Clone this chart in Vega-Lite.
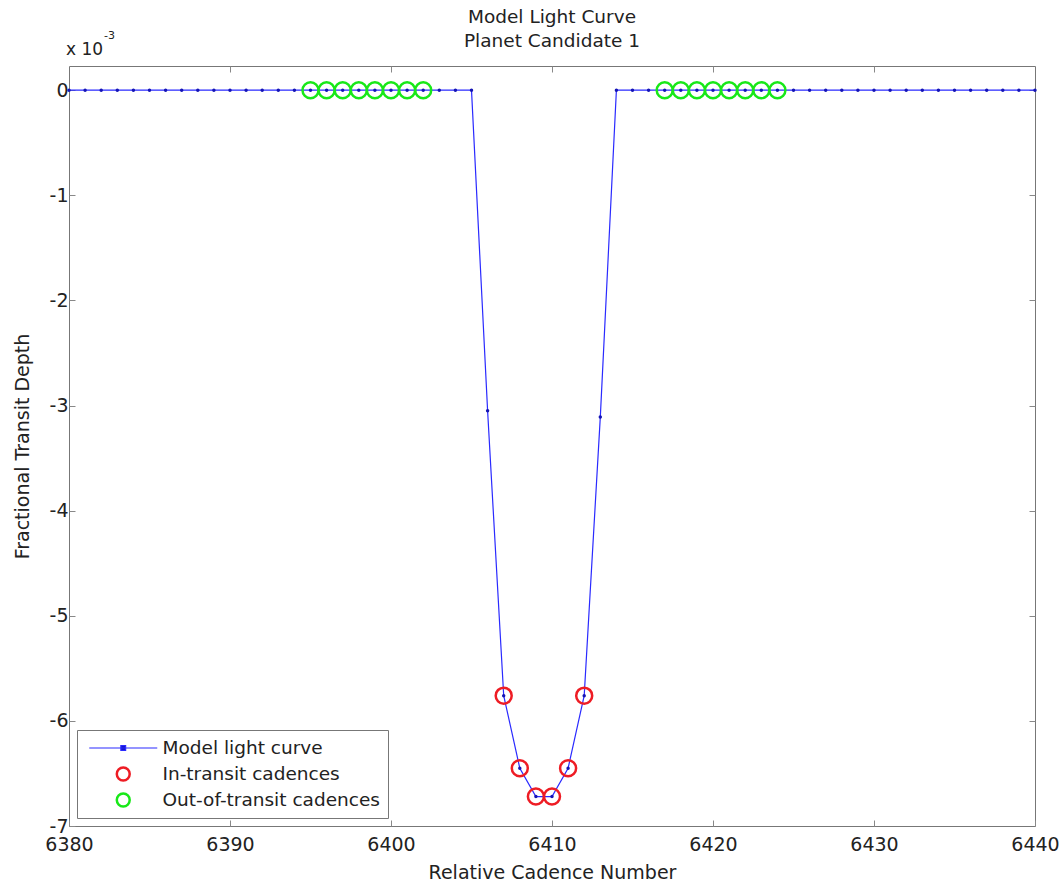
{
  "$schema": "https://vega.github.io/schema/vega-lite/v6.json",
  "width": 966,
  "height": 760,
  "autosize": {"type": "none"},
  "padding": {"left": 69, "top": 66, "right": 27, "bottom": 58},
  "background": "white",
  "title": {
    "text": ["Model Light Curve", "Planet Candidate 1"],
    "font": "DejaVu Sans",
    "fontSize": 18.5,
    "fontWeight": "normal",
    "color": "#222222",
    "lineHeight": 24,
    "anchor": "middle",
    "offset": -20
  },
  "config": {
    "font": "DejaVu Sans",
    "view": {"stroke": "#777777", "strokeWidth": 1},
    "axis": {
      "grid": false,
      "domain": false,
      "tickColor": "#888888",
      "tickSize": -6,
      "labelFont": "DejaVu Sans",
      "labelFontSize": 19,
      "labelColor": "#222222",
      "labelFlush": false,
      "labelOverlap": false,
      "titleFont": "DejaVu Sans",
      "titleFontSize": 19,
      "titleFontWeight": "normal",
      "titleColor": "#222222"
    },
    "legend": {
      "orient": "bottom-left",
      "offset": 8,
      "strokeColor": "#777777",
      "fillColor": "white",
      "padding": 8,
      "rowPadding": 6,
      "clipHeight": 20,
      "symbolSize": 4624,
      "symbolOffset": 29,
      "symbolStrokeWidth": 1,
      "labelFont": "DejaVu Sans",
      "labelFontSize": 18.5,
      "labelColor": "#222222",
      "labelOffset": 30,
      "labelLimit": 0
    }
  },
  "data": {
    "values": [
      {"cadence": 6380, "depth": 0},
      {"cadence": 6381, "depth": 0},
      {"cadence": 6382, "depth": 0},
      {"cadence": 6383, "depth": 0},
      {"cadence": 6384, "depth": 0},
      {"cadence": 6385, "depth": 0},
      {"cadence": 6386, "depth": 0},
      {"cadence": 6387, "depth": 0},
      {"cadence": 6388, "depth": 0},
      {"cadence": 6389, "depth": 0},
      {"cadence": 6390, "depth": 0},
      {"cadence": 6391, "depth": 0},
      {"cadence": 6392, "depth": 0},
      {"cadence": 6393, "depth": 0},
      {"cadence": 6394, "depth": 0},
      {"cadence": 6395, "depth": 0, "kind": "Out-of-transit cadences"},
      {"cadence": 6396, "depth": 0, "kind": "Out-of-transit cadences"},
      {"cadence": 6397, "depth": 0, "kind": "Out-of-transit cadences"},
      {"cadence": 6398, "depth": 0, "kind": "Out-of-transit cadences"},
      {"cadence": 6399, "depth": 0, "kind": "Out-of-transit cadences"},
      {"cadence": 6400, "depth": 0, "kind": "Out-of-transit cadences"},
      {"cadence": 6401, "depth": 0, "kind": "Out-of-transit cadences"},
      {"cadence": 6402, "depth": 0, "kind": "Out-of-transit cadences"},
      {"cadence": 6403, "depth": 0},
      {"cadence": 6404, "depth": 0},
      {"cadence": 6405, "depth": 0},
      {"cadence": 6406, "depth": -0.00305},
      {"cadence": 6407, "depth": -0.00576, "kind": "In-transit cadences"},
      {"cadence": 6408, "depth": -0.00645, "kind": "In-transit cadences"},
      {"cadence": 6409, "depth": -0.00672, "kind": "In-transit cadences"},
      {"cadence": 6410, "depth": -0.00672, "kind": "In-transit cadences"},
      {"cadence": 6411, "depth": -0.00645, "kind": "In-transit cadences"},
      {"cadence": 6412, "depth": -0.00576, "kind": "In-transit cadences"},
      {"cadence": 6413, "depth": -0.00311},
      {"cadence": 6414, "depth": 0},
      {"cadence": 6415, "depth": 0},
      {"cadence": 6416, "depth": 0},
      {"cadence": 6417, "depth": 0, "kind": "Out-of-transit cadences"},
      {"cadence": 6418, "depth": 0, "kind": "Out-of-transit cadences"},
      {"cadence": 6419, "depth": 0, "kind": "Out-of-transit cadences"},
      {"cadence": 6420, "depth": 0, "kind": "Out-of-transit cadences"},
      {"cadence": 6421, "depth": 0, "kind": "Out-of-transit cadences"},
      {"cadence": 6422, "depth": 0, "kind": "Out-of-transit cadences"},
      {"cadence": 6423, "depth": 0, "kind": "Out-of-transit cadences"},
      {"cadence": 6424, "depth": 0, "kind": "Out-of-transit cadences"},
      {"cadence": 6425, "depth": 0},
      {"cadence": 6426, "depth": 0},
      {"cadence": 6427, "depth": 0},
      {"cadence": 6428, "depth": 0},
      {"cadence": 6429, "depth": 0},
      {"cadence": 6430, "depth": 0},
      {"cadence": 6431, "depth": 0},
      {"cadence": 6432, "depth": 0},
      {"cadence": 6433, "depth": 0},
      {"cadence": 6434, "depth": 0},
      {"cadence": 6435, "depth": 0},
      {"cadence": 6436, "depth": 0},
      {"cadence": 6437, "depth": 0},
      {"cadence": 6438, "depth": 0},
      {"cadence": 6439, "depth": 0},
      {"cadence": 6440, "depth": 0}
    ]
  },
  "resolve": {"axis": {"x": "independent", "y": "independent"}},
  "layer": [
    {
      "mark": {"type": "line", "strokeWidth": 1.2, "clip": true},
      "encoding": {
        "x": {
          "field": "cadence", "type": "quantitative",
          "scale": {"domain": [6380, 6440], "nice": false, "zero": false},
          "axis": {"orient": "bottom", "values": [6380, 6390, 6400, 6410, 6420, 6430, 6440], "format": "d", "labelPadding": 15, "title": "Relative Cadence Number", "titlePadding": 9}
        },
        "y": {
          "field": "depth", "type": "quantitative",
          "scale": {"domain": [-0.007, 0.00023], "nice": false, "zero": false},
          "axis": {"orient": "left", "values": [-0.007, -0.006, -0.005, -0.004, -0.003, -0.002, -0.001, 0], "labelExpr": "(datum.value < -0.0000001 ? '-' : '') + format(abs(round(datum.value * 1000)), 'd')", "labelPadding": 7, "title": "Fractional Transit Depth", "titlePadding": 17}
        },
        "stroke": {
          "datum": "Model light curve",
          "type": "nominal",
          "scale": {"domain": ["Model light curve", "In-transit cadences", "Out-of-transit cadences"], "range": ["#2a2aff", "#ee1c24", "#18e818"]},
          "legend": {
            "title": null,
            "encode": {
              "symbols": {
                "update": {
                  "shape": {"signal": "datum.value === 'Model light curve' ? 'M-1,0H1M-0.07,-0.07H0.07V0.07H-0.07Z' : 'M0.19,0A0.19,0.19,0,1,1,-0.19,0A0.19,0.19,0,1,1,0.19,0Z'"},
                  "size": {"value": 4624},
                  "strokeWidth": {"signal": "datum.value === 'Model light curve' ? 1.2 : 2.5"},
                  "fill": {"signal": "datum.value === 'Model light curve' ? '#1010c0' : 'transparent'"},
                  "opacity": {"value": 1}
                }
              }
            }
          }
        }
      }
    },
    {
      "mark": {"type": "point", "filled": true, "size": 12, "color": "#1414b4", "opacity": 1},
      "encoding": {
        "x": {"field": "cadence", "type": "quantitative", "axis": null},
        "y": {"field": "depth", "type": "quantitative", "axis": null}
      }
    },
    {
      "transform": [{"filter": "isValid(datum.kind)"}],
      "mark": {"type": "point", "shape": "circle", "size": 256, "strokeWidth": 2.5, "filled": false, "opacity": 1},
      "encoding": {
        "x": {"field": "cadence", "type": "quantitative", "axis": {"orient": "top", "values": [6390, 6400, 6410, 6420, 6430], "labels": false, "title": null}},
        "y": {"field": "depth", "type": "quantitative", "axis": {"orient": "right", "values": [-0.006, -0.005, -0.004, -0.003, -0.002, -0.001, 0], "labels": false, "title": null}},
        "stroke": {"field": "kind", "type": "nominal", "legend": {"title": null}}
      }
    },
    {
      "data": {"values": [{"label": "x 10"}]},
      "mark": {"type": "text", "align": "left", "baseline": "alphabetic", "fontSize": 17, "font": "DejaVu Sans", "color": "#222222", "dx": -3, "dy": -11},
      "encoding": {
        "text": {"field": "label"},
        "x": {"datum": 6380, "type": "quantitative", "axis": null},
        "y": {"datum": 0.00023, "type": "quantitative", "axis": null}
      }
    },
    {
      "data": {"values": [{"label": "-3"}]},
      "mark": {"type": "text", "align": "left", "baseline": "alphabetic", "fontSize": 11, "font": "DejaVu Sans", "color": "#222222", "dx": 35, "dy": -27},
      "encoding": {
        "text": {"field": "label"},
        "x": {"datum": 6380, "type": "quantitative", "axis": null},
        "y": {"datum": 0.00023, "type": "quantitative", "axis": null}
      }
    }
  ]
}
